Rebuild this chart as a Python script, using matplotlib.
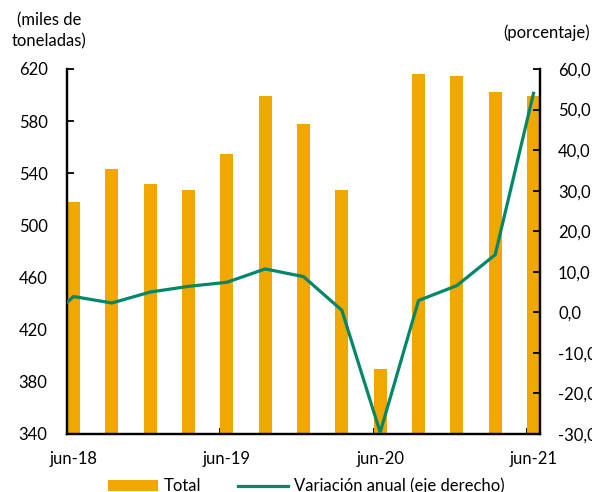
import numpy as np
import matplotlib.pyplot as plt
from matplotlib.patches import Patch
from matplotlib.lines import Line2D

plt.rcParams['font.family'] = ['Lato', 'DejaVu Sans']

# datos trimestrales
trimestres = ['jun-18', 'sep-18', 'dic-18', 'mar-19', 'jun-19', 'sep-19', 'dic-19',
              'mar-20', 'jun-20', 'sep-20', 'dic-20', 'mar-21', 'jun-21']
total = [518, 543, 532, 527, 555, 599.5, 578, 527.5, 390, 616, 614.5, 602, 599]
# variacion anual (%), el primer valor (mar-18) queda fuera del eje
variacion_mar18 = -4.6
variacion = [3.9, 2.3, 5.0, 6.4, 7.4, 10.7, 8.8, 0.5, -29.6, 2.9, 6.6, 14.2, 54.0]
etiquetas_x = ['jun-18', 'jun-19', 'jun-20', 'jun-21']

ORANGE = '#F0A800'
GREEN = '#00876A'
FS = 12

fig = plt.figure(figsize=(5.92, 4.92), dpi=100)
ax = fig.add_axes([0.1132, 0.1179, 0.7990, 0.7419])
ax2 = ax.twinx()

x = np.arange(len(trimestres))
w = 0.34
ax.bar(x, total, width=w, align='edge', color=ORANGE, zorder=2)

x_line = np.arange(-1, len(trimestres)) + w / 2
ax2.plot(x_line, [variacion_mar18] + variacion, color=GREEN, lw=2.3,
         solid_joinstyle='miter', zorder=3)

ax.set_xlim(0, len(trimestres) - 1 + w)
ax.set_ylim(340, 620)
ax.set_yticks(np.arange(340, 621, 40))
ax2.set_ylim(-30, 60)
ax2.set_yticks(np.arange(-30, 61, 10))
ax2.set_yticklabels([f'{v:.1f}'.replace('.', ',') for v in np.arange(-30, 61, 10)])

# marcas en junio, etiquetas centradas en la barra
jun_idx = [trimestres.index(e) for e in etiquetas_x]
ax.set_xticks(jun_idx)
ax.set_xticklabels([])
ax.set_xticks([i + w / 2 for i in jun_idx], minor=True)
ax.set_xticklabels(etiquetas_x, minor=True)
ax.tick_params(axis='x', which='major', direction='in', length=4, width=1.3)
ax.tick_params(axis='x', which='minor', length=0, pad=12, labelsize=FS)
ax.tick_params(axis='y', direction='in', length=5, width=1.3, pad=14, labelsize=FS)
ax2.tick_params(axis='y', direction='in', length=5, width=1.3, pad=13, labelsize=FS)

for a in (ax, ax2):
    a.spines['top'].set_visible(False)
    for s in ('left', 'right', 'bottom'):
        a.spines[s].set_linewidth(1.6)
        a.spines[s].set_color('black')

fig.text(0.083, 0.975, '(miles de\ntoneladas)', ha='center', va='top',
         fontsize=FS, linespacing=1.4)
fig.text(0.997, 0.933, '(porcentaje)', ha='right', va='center', fontsize=FS)

handles = [Patch(facecolor=ORANGE, edgecolor='none'),
           Line2D([0], [0], color=GREEN, lw=2.3)]
fig.legend(handles, ['Total', 'Variación anual (eje derecho)'], ncol=2,
           loc='center', bbox_to_anchor=(0.517, 0.012), frameon=False,
           fontsize=FS, handlelength=3.0, handleheight=0.6, handletextpad=0.35,
           columnspacing=2.2)

fig.savefig('out.png', dpi=100)
